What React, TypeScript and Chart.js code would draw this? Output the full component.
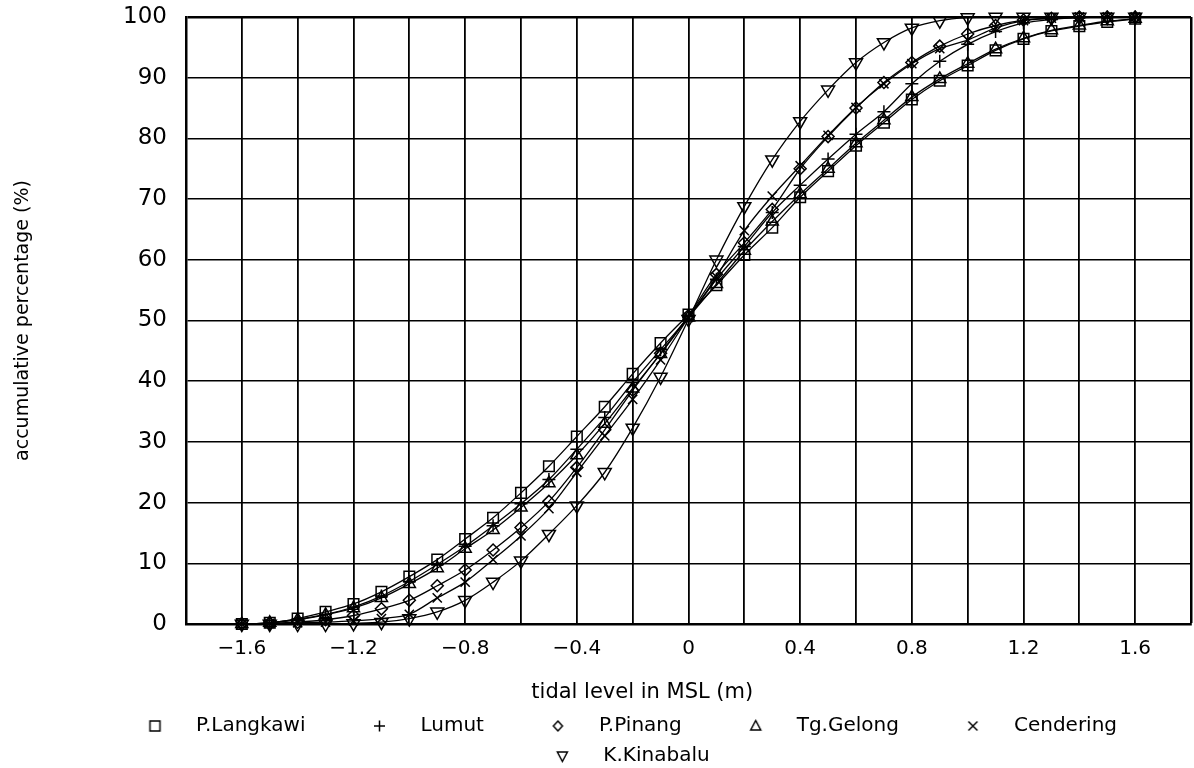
import React, { useEffect, useRef } from "react";
import { Chart, registerables } from "chart.js";

Chart.register(...registerables);

// ---- data ----
const levels = [
  -1.6, -1.5, -1.4, -1.3, -1.2, -1.1, -1.0, -0.9, -0.8, -0.7, -0.6, -0.5, -0.4, -0.3, -0.2, -0.1,
  0, 0.1, 0.2, 0.3, 0.4, 0.5, 0.6, 0.7, 0.8, 0.9, 1.0, 1.1, 1.2, 1.3, 1.4, 1.5, 1.6,
];

const langkawi = [
  0, 0.2, 0.9, 2.0, 3.3, 5.3, 7.8, 10.6, 14.0, 17.5, 21.6, 26.0, 30.9, 35.8, 41.2, 46.3,
  51.0, 55.8, 60.8, 65.3, 70.3, 74.6, 78.8, 82.6, 86.4, 89.5, 92.0, 94.5, 96.4, 97.7, 98.5, 99.2, 99.7,
];
const lumut = [
  0, 0.2, 0.8, 1.6, 2.8, 4.6, 7.0, 9.8, 12.8, 16.2, 19.8, 23.8, 28.8, 34.0, 39.8, 45.2,
  50.6, 56.8, 62.2, 67.8, 72.3, 76.6, 80.7, 84.4, 89.0, 92.7, 95.5, 97.6, 99.0, 99.6, 99.9, 100, 100,
];
const pinang = [
  0, 0.1, 0.3, 0.7, 1.4, 2.5, 3.9, 6.3, 8.9, 12.2, 15.9, 20.2, 25.8, 32.0, 38.5, 44.6,
  50.8, 57.6, 62.8, 68.3, 75.0, 80.3, 85.0, 89.2, 92.5, 95.2, 97.2, 98.6, 99.5, 99.8, 100, 100, 100,
];
const gelong = [
  0, 0.2, 0.7, 1.5, 2.6, 4.3, 6.6, 9.2, 12.4, 15.5, 19.2, 23.2, 27.8, 33.0, 38.8, 44.5,
  50.5, 56.0, 61.5, 66.3, 70.8, 75.0, 79.2, 83.0, 86.8, 89.8, 92.3, 94.7, 96.5, 97.8, 98.6, 99.3, 99.7,
];
const cendering = [
  0, 0.1, 0.2, 0.3, 0.5, 0.9, 1.6, 4.3, 6.9, 10.6, 14.5, 19.0, 25.0, 31.0, 37.0, 43.5,
  50.5, 57.2, 64.8, 70.5, 75.5, 80.5, 85.1, 89.0, 92.3, 94.8, 96.2, 98.2, 99.4, 99.8, 100, 100, 100,
];
const kinabalu = [
  0, 0, 0, 0, 0.1, 0.3, 0.9, 2.0, 3.9, 6.9, 10.4, 14.8, 19.5, 25.0, 32.3, 40.7,
  50.2, 60.0, 68.8, 76.5, 82.8, 88.0, 92.5, 95.8, 98.2, 99.4, 99.9, 100, 100, 100, 100, 100, 100,
];

const seriesNames = ["P.Langkawi", "Lumut", "P.Pinang", "Tg.Gelong", "Cendering", "K.Kinabalu"];
const seriesValues = [langkawi, lumut, pinang, gelong, cendering, kinabalu];

const xLabelledTicks = [-1.6, -1.2, -0.8, -0.4, 0, 0.4, 0.8, 1.2, 1.6];
const xTitle = "tidal level in MSL (m)";
const yTitle = "accumulative percentage (%)";

// ---- styles ----
const FONT = '"DejaVu Sans", Verdana, sans-serif';
const markerStyles = ["rect", "cross", "rectRot", "triangle", "crossRot", "triangle"];
const markerRotations = [0, 0, 0, 0, 0, 180];
const markerRadii = [7.5, 6.5, 6, 7, 6.5, 7.5];
const legendKinds = ["square", "plus", "diamond", "up", "x", "down"];

function makeLegendIcon(kind: string): HTMLCanvasElement {
  const c = document.createElement("canvas");
  c.width = 50;
  c.height = 20;
  const g = c.getContext("2d")!;
  const cx = 41.5;
  const cy = 10;
  g.strokeStyle = "#000";
  g.lineWidth = 1.5;
  g.beginPath();
  if (kind === "square") {
    g.rect(cx - 5, cy - 5, 10, 10);
  } else if (kind === "plus") {
    g.moveTo(cx - 5.5, cy);
    g.lineTo(cx + 5.5, cy);
    g.moveTo(cx, cy - 5.5);
    g.lineTo(cx, cy + 5.5);
  } else if (kind === "diamond") {
    g.moveTo(cx, cy - 5);
    g.lineTo(cx + 4.5, cy);
    g.lineTo(cx, cy + 5);
    g.lineTo(cx - 4.5, cy);
    g.closePath();
  } else if (kind === "up") {
    g.moveTo(cx, cy - 5.5);
    g.lineTo(cx + 5, cy + 4);
    g.lineTo(cx - 5, cy + 4);
    g.closePath();
  } else if (kind === "x") {
    g.moveTo(cx - 4.5, cy - 4.5);
    g.lineTo(cx + 4.5, cy + 4.5);
    g.moveTo(cx + 4.5, cy - 4.5);
    g.lineTo(cx - 4.5, cy + 4.5);
  } else {
    g.moveTo(cx, cy + 5.5);
    g.lineTo(cx + 5, cy - 4);
    g.lineTo(cx - 5, cy - 4);
    g.closePath();
  }
  g.stroke();
  return c;
}

const xTitlePlugin = {
  id: "xTitleText",
  afterDraw(chart: any) {
    const { ctx, chartArea } = chart;
    ctx.save();
    ctx.font = `21px ${FONT}`;
    ctx.fillStyle = "#000";
    ctx.textAlign = "center";
    ctx.textBaseline = "middle";
    const x = chartArea.left + (chartArea.right - chartArea.left) * 0.454;
    ctx.fillText(xTitle, x, chartArea.bottom + 69);
    ctx.restore();
  },
};

export default function App() {
  const canvasRef = useRef<HTMLCanvasElement | null>(null);

  useEffect(() => {
    if (!canvasRef.current) return;
    const icons = legendKinds.map((k) => makeLegendIcon(k));

    const datasets = seriesNames.map((name, i) => ({
      label: name,
      data: levels.map((x, j) => ({ x, y: seriesValues[i][j] })),
      borderColor: "#000",
      borderWidth: 1.3,
      tension: 0.3,
      fill: false,
      pointStyle: markerStyles[i] as any,
      pointRotation: markerRotations[i],
      pointRadius: markerRadii[i],
      pointBorderColor: "#000",
      pointBackgroundColor: "rgba(0,0,0,0)",
      pointBorderWidth: 1.5,
      clip: false as any,
    }));

    const chart = new Chart(canvasRef.current, {
      type: "line",
      data: { datasets },
      plugins: [xTitlePlugin],
      options: {
        animation: false,
        responsive: false,
        devicePixelRatio: 1,
        events: [],
        layout: { padding: { left: 7, right: 3, top: 17, bottom: 0 } },
        scales: {
          x: {
            type: "linear",
            min: -1.8,
            max: 1.8,
            afterFit: (s: any) => {
              s.height = 82;
            },
            ticks: {
              stepSize: 0.2,
              autoSkip: false,
              maxRotation: 0,
              padding: 13,
              color: "#000",
              font: { family: FONT, size: 20 },
              callback: (value: any) => {
                const v = Number(value);
                const hit = xLabelledTicks.find((t) => Math.abs(t - v) < 1e-6);
                if (hit === undefined) return "";
                if (hit === 0) return "0";
                return hit < 0 ? "\u2212" + Math.abs(hit).toFixed(1) : hit.toFixed(1);
              },
            },
            grid: {
              color: "#000",
              lineWidth: (c: any) => (c.tick && Math.abs(c.tick.value - 1.8) < 1e-6 ? 2.5 : 1.8),
              drawTicks: false,
            },
            border: { color: "#000", width: 2.5 },
          },
          y: {
            min: 0,
            max: 100,
            afterFit: (s: any) => {
              s.width = 179;
              s.paddingTop = 0;
              s.paddingBottom = 0;
            },
            ticks: {
              stepSize: 10,
              padding: 19,
              color: "#000",
              font: { family: FONT, size: 23 },
            },
            grid: {
              color: "#000",
              lineWidth: (c: any) => (c.tick && c.tick.value === 100 ? 2.5 : 1.5),
              drawTicks: false,
            },
            border: { color: "#000", width: 2.5 },
            title: {
              display: true,
              text: yTitle,
              color: "#000",
              font: { family: FONT, size: 19 },
              padding: { top: 5, bottom: 0 },
            },
          },
        },
        plugins: {
          tooltip: { enabled: false },
          title: { display: false },
          legend: {
            display: true,
            position: "bottom",
            labels: {
              usePointStyle: true,
              pointStyleWidth: 95,
              padding: 10,
              color: "#000",
              font: { family: FONT, size: 20 },
              generateLabels: (ch: any) =>
                ch.data.datasets.map((ds: any, i: number) => ({
                  text: ds.label,
                  pointStyle: icons[i],
                  rotation: 0,
                  fillStyle: "rgba(0,0,0,0)",
                  strokeStyle: "#000",
                  lineWidth: 0,
                  hidden: false,
                  fontColor: "#000",
                  datasetIndex: i,
                })),
            },
          },
        },
      },
    });

    return () => {
      chart.destroy();
    };
  }, []);

  return (
    <div
      style={{
        position: "absolute",
        left: 0,
        top: 0,
        width: 1194,
        height: 768,
        overflow: "hidden",
        background: "#fff",
      }}
    >
      <canvas
        ref={canvasRef}
        width={1204}
        height={776}
        style={{ display: "block", width: 1204, height: 776 }}
      />
    </div>
  );
}
